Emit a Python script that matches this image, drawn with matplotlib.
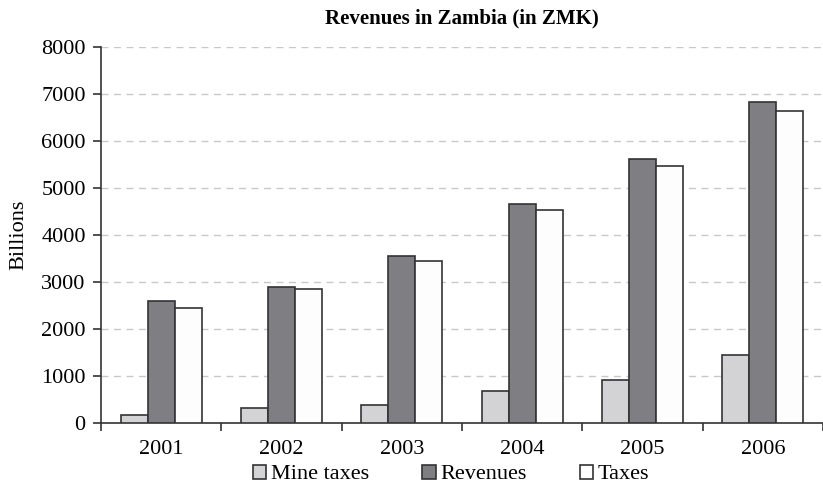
import matplotlib
matplotlib.use("Agg")
import matplotlib.pyplot as plt
import numpy as np

# data (billions ZMK)
years = ["2001", "2002", "2003", "2004", "2005", "2006"]
mine_taxes = [160, 310, 380, 685, 910, 1440]
revenues = [2600, 2900, 3560, 4650, 5625, 6820]
taxes = [2440, 2850, 3450, 4540, 5475, 6640]

plt.rcParams['font.family'] = ['Liberation Serif', 'DejaVu Serif']

fig = plt.figure(figsize=(8.23, 4.93), dpi=100)
ax = fig.add_axes([0.1227, 0.142, 0.8773, 0.7627])

x = np.arange(len(years))
width = 0.225
edge = "#333333"
ax.bar(x - width, mine_taxes, width, color="#d3d3d5", edgecolor=edge, linewidth=1.2, label="Mine taxes", zorder=3)
ax.bar(x, revenues, width, color="#7f7f83", edgecolor=edge, linewidth=1.2, label="Revenues", zorder=3)
ax.bar(x + width, taxes, width, color="#fdfdfd", edgecolor=edge, linewidth=1.2, label="Taxes", zorder=3)

ax.set_xlim(-0.5, 5.5)
ax.set_ylim(0, 8000)
ax.set_yticks(np.arange(0, 8001, 1000))
ax.yaxis.grid(True, linestyle=(0, (5, 4)), color="#c8c8c8", linewidth=1.0, zorder=0)

# ticks at the category boundaries, labels centered
ax.set_xticks(np.arange(-0.5, 6, 1))
ax.set_xticklabels([])
ax.set_xticks(x, minor=True)
ax.set_xticklabels(years, minor=True)
ax.tick_params(axis="x", which="minor", length=0, labelsize=16, pad=12)
ax.tick_params(axis="x", which="major", length=6, width=1.2, color="#333333")
ax.tick_params(axis="y", length=6, width=1.2, labelsize=16, color="#333333", pad=5)

for s in ["top", "right"]:
    ax.spines[s].set_visible(False)
for s in ["left", "bottom"]:
    ax.spines[s].set_linewidth(1.2)
    ax.spines[s].set_color("#333333")

ax.set_ylabel("Billions", fontsize=16, labelpad=9)
ax.set_title("Revenues in Zambia (in ZMK)", fontsize=15, fontweight="bold", pad=17)

ax.legend(loc="upper center", bbox_to_anchor=(0.485, -0.075), ncol=3, frameon=False,
          fontsize=16, handlelength=0.6, handleheight=0.6, handletextpad=0.2,
          columnspacing=2.4, borderaxespad=0.2)

fig.savefig("out.png", dpi=100)
